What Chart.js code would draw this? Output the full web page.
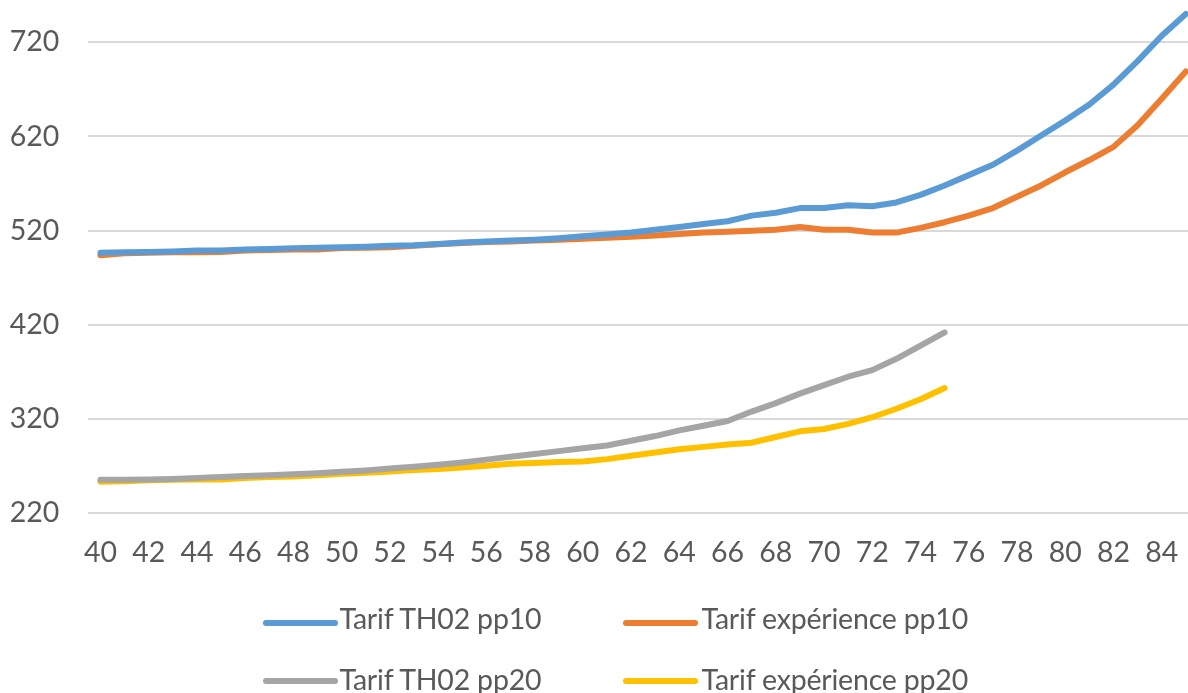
<!DOCTYPE html>
<html>
<head>
<meta charset="utf-8">
<script src="https://cdn.jsdelivr.net/npm/chart.js@4/dist/chart.umd.min.js"></script>
<style>
  html, body { margin: 0; padding: 0; background: #ffffff; }
  #wrap { position: relative; width: 1188px; height: 693px; overflow: hidden; }
  #legend { position: absolute; left: 0; top: 0; width: 1188px; height: 693px; pointer-events: none; }
  .swatch { position: absolute; width: 75px; height: 6px; border-radius: 3px; }
  .ltext { position: absolute; font-family: Lato, "Open Sans", sans-serif; font-size: 28.5px; line-height: 1; color: #595959; white-space: nowrap; letter-spacing: -0.2px; }
</style>
</head>
<body>
<div id="wrap">
  <canvas id="chart"></canvas>
  <div id="legend"></div>
</div>
<script>
// Ages (x values)
const ages = [40,41,42,43,44,45,46,47,48,49,50,51,52,53,54,55,56,57,58,59,60,61,62,63,64,65,66,67,68,69,70,71,72,73,74,75,76,77,78,79,80,81,82,83,84,85];

// Tariff curves
const tarifTH02pp10 = [496.5,497,497.5,498,499,499,500,500.5,501.5,502,502.5,503,504,504.5,506,507.5,508.5,509.5,510.5,512,514,516,518,521,524,527,530,536,539,544,544,547,546,550,558,568,579,590,605,621,637,654,675,700,727,750];
const tarifExpPp10  = [494,496,496.5,497,497,497.5,499,499.5,500,500,501.5,502,502.5,504,505.5,507,508,508.5,509.5,510.5,511.5,512.5,513.5,515,516.5,518,519,520,521,524,521,521,518,518,523,529,536,544,556,568,582,595,609,632,660,689];
const tarifTH02pp20 = [255.5,255.5,256,256.5,257.5,258.5,259.5,260.5,261.5,262.5,264,265.5,267.5,269.5,271.5,274,277,280,283,286,289,292,297,302,308,313,318,328,337,347,356,365,372,384,398,412];
const tarifExpPp20  = [253.5,254,255,255.5,256,256,257.5,258.5,259,260.5,262,263,264.5,266,267,268.5,270.5,272.5,273.5,274.5,275,277.5,281,284.5,288,290.5,293,295,301,307,309.5,315,322,331,341,353];

// Axis ticks
const xTicks = [40,42,44,46,48,50,52,54,56,58,60,62,64,66,68,70,72,74,76,78,80,82,84];
const yTicks = [220,320,420,520,620,720];

// Series names and colours
const seriesNames  = ['Tarif TH02 pp10', 'Tarif expérience pp10', 'Tarif TH02 pp20', 'Tarif expérience pp20'];
const seriesColors = ['#5B9BD5', '#ED7D31', '#A5A5A5', '#FFC000'];

const seriesValues = [tarifTH02pp10, tarifExpPp10, tarifTH02pp20, tarifExpPp20];
const toPoints = vals => vals.map((v, i) => ({ x: ages[i], y: v }));

const tickFont = { family: 'Lato, "Open Sans", sans-serif', size: 28.5 };

const chart = new Chart(document.getElementById('chart'), {
  type: 'line',
  data: {
    datasets: seriesValues.map((vals, i) => ({
      label: seriesNames[i],
      data: toPoints(vals),
      borderColor: seriesColors[i],
      backgroundColor: seriesColors[i],
      borderWidth: 6,
      borderCapStyle: 'round',
      borderJoinStyle: 'round',
      pointRadius: 0,
      tension: 0,
      fill: false
    }))
  },
  options: {
    responsive: true,
    maintainAspectRatio: false,
    animation: false,
    layout: { padding: { left: 0, right: 0, top: 0, bottom: 119.7 } },
    plugins: {
      legend: { display: false },
      tooltip: { enabled: false }
    },
    scales: {
      x: {
        type: 'linear',
        min: 39.5,
        max: 85.09,
        grid: { display: false, drawTicks: false },
        border: { display: false },
        ticks: { font: tickFont, color: '#595959', padding: 22, maxRotation: 0, autoSkip: false },
        afterBuildTicks: s => { s.ticks = xTicks.map(v => ({ value: v })); },
        afterFit: s => { s.height = 60; s.paddingLeft = 0; s.paddingRight = 0; }
      },
      y: {
        type: 'linear',
        min: 220,
        max: 764.9,
        grid: { color: '#D9D9D9', lineWidth: 2, drawTicks: false },
        border: { display: false },
        ticks: { font: tickFont, color: '#595959', padding: 29 },
        afterBuildTicks: s => { s.ticks = yTicks.map(v => ({ value: v })); },
        afterFit: s => { s.width = 88.4; s.paddingTop = 0; s.paddingBottom = 0; }
      }
    }
  }
});

// Two-column legend under the plot, built from the chart's datasets
const legendSlots = [
  { swatchLeft: 263, swatchY: 623.3, textLeft: 339.5, baseline: 629.3 },
  { swatchLeft: 623, swatchY: 623.3, textLeft: 701.5, baseline: 629.3 },
  { swatchLeft: 263, swatchY: 680.5, textLeft: 339.5, baseline: 690.3 },
  { swatchLeft: 623, swatchY: 680.5, textLeft: 701.5, baseline: 690.3 }
];
const legendEl = document.getElementById('legend');
chart.data.datasets.forEach((ds, i) => {
  const slot = legendSlots[i];
  const sw = document.createElement('div');
  sw.className = 'swatch';
  sw.style.left = slot.swatchLeft + 'px';
  sw.style.top = (slot.swatchY - 3) + 'px';
  sw.style.background = ds.borderColor;
  legendEl.appendChild(sw);
  const tx = document.createElement('span');
  tx.className = 'ltext';
  tx.textContent = ds.label;
  tx.style.left = slot.textLeft + 'px';
  tx.style.top = (slot.baseline - 25.3) + 'px';
  legendEl.appendChild(tx);
});
</script>
</body>
</html>
